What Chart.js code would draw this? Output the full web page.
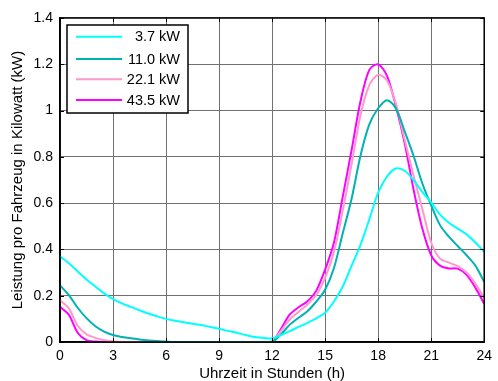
<!DOCTYPE html>
<html>
<head>
<meta charset="utf-8">
<script src="https://cdn.jsdelivr.net/npm/chart.js@4/dist/chart.umd.min.js"></script>
<style>
html,body{margin:0;padding:0;background:#fff;}
#wrap{width:498px;height:381px;}
</style>
</head>
<body>
<div id="wrap"><canvas id="c" width="498" height="381"></canvas></div>
<script>
// ---- data ----
const hours = [0,0.5,1,1.5,2,2.5,3,3.5,4,4.5,5,5.5,6,6.5,7,7.5,8,8.5,9,9.5,10,10.5,11,11.5,12,12.5,13,13.5,14,14.5,15,15.5,16,16.5,17,17.5,18,18.5,19,19.5,20,20.5,21,21.5,22,22.5,23,23.5,24];
const seriesLabels = ['3.7 kW','11.0 kW','22.1 kW','43.5 kW'];
const p37 = [0.37,0.34,0.305,0.27,0.24,0.21,0.185,0.167,0.152,0.137,0.123,0.111,0.1,0.092,0.085,0.079,0.073,0.065,0.057,0.048,0.04,0.03,0.022,0.018,0.015,0.03,0.047,0.065,0.083,0.102,0.126,0.175,0.24,0.33,0.42,0.53,0.645,0.715,0.75,0.74,0.7,0.648,0.603,0.55,0.515,0.49,0.465,0.43,0.39];
const p110 = [0.245,0.203,0.148,0.103,0.068,0.045,0.03,0.022,0.016,0.011,0.007,0.004,0.002,0,0,0,0,0,0,0,0,0,0,0,0,0.033,0.075,0.105,0.133,0.175,0.226,0.32,0.471,0.62,0.805,0.94,1.01,1.045,1.01,0.91,0.805,0.685,0.59,0.505,0.455,0.415,0.375,0.33,0.26];
const p221 = [0.18,0.145,0.07,0.033,0.018,0.008,0.003,0,0,0,0,0,0,0,0,0,0,0,0,0,0,0,0,0,0.003,0.048,0.097,0.13,0.162,0.203,0.277,0.39,0.57,0.77,0.98,1.11,1.155,1.13,1.03,0.875,0.72,0.575,0.43,0.36,0.343,0.328,0.3,0.252,0.19];
const p435 = [0.152,0.118,0.04,0.008,0.002,0,0,0,0,0,0,0,0,0,0,0,0,0,0,0,0,0,0,0,0,0.056,0.119,0.15,0.176,0.222,0.313,0.43,0.629,0.83,1.04,1.176,1.2,1.15,1.02,0.86,0.66,0.49,0.375,0.33,0.318,0.317,0.29,0.235,0.165];
const xTicks = [0,3,6,9,12,15,18,21,24];
const yTickLabels = ['0','0.2','0.4','0.6','0.8','1','1.2','1.4'];
const xTitle = 'Uhrzeit in Stunden (h)';
const yTitle = 'Leistung pro Fahrzeug in Kilowatt (kW)';

const colors = ['#00ffff','#00b2b2','#ff99cc','#ff00ff'];
const allSeries = [p37,p110,p221,p435];

const FONT = 'Liberation Sans, Arial, sans-serif';

const datasets = allSeries.map((s,i)=>({
  label: seriesLabels[i],
  data: hours.map((h,k)=>({x:h,y:s[k]})),
  borderColor: colors[i],
  backgroundColor: colors[i],
  borderWidth: 2,
  pointRadius: 0,
  tension: 0.3,
  fill: false
}));

const framePlugin = {
  id: 'frame',
  afterDraw(chart){
    const ctx = chart.ctx;
    const a = chart.chartArea;
    const xs = chart.scales.x, ys = chart.scales.y;
    ctx.save();
    ctx.strokeStyle = '#000';
    ctx.lineWidth = 1;
    const tl = 4;
    ctx.beginPath();
    xTicks.forEach(v=>{
      const px = Math.round(xs.getPixelForValue(v))+0.5;
      ctx.moveTo(px,a.bottom); ctx.lineTo(px,a.bottom-tl);
      ctx.moveTo(px,a.top); ctx.lineTo(px,a.top+tl);
    });
    yTickLabels.forEach((t,i)=>{
      const py = Math.round(ys.getPixelForValue(i*0.2))+0.5;
      ctx.moveTo(a.left,py); ctx.lineTo(a.left+tl,py);
      ctx.moveTo(a.right,py); ctx.lineTo(a.right-tl,py);
    });
    ctx.stroke();
    ctx.lineWidth = 1.5;
    ctx.strokeRect(a.left, a.top, a.right-a.left, a.bottom-a.top);
    // legend
    const lx = 67, ly = 25, lw = 121, lh = 88;
    ctx.fillStyle = '#fff';
    ctx.fillRect(lx,ly,lw,lh);
    ctx.lineWidth = 1.5;
    ctx.strokeStyle = '#000';
    ctx.strokeRect(lx,ly,lw,lh);
    const rows = [36.7,59,79.3,100];
    ctx.font = '14.5px ' + FONT;
    ctx.textAlign = 'right';
    ctx.textBaseline = 'middle';
    chart.data.datasets.forEach((d,i)=>{
      ctx.strokeStyle = d.borderColor;
      ctx.lineWidth = 2;
      ctx.beginPath();
      ctx.moveTo(76,rows[i]); ctx.lineTo(122,rows[i]);
      ctx.stroke();
      ctx.fillStyle = '#000';
      ctx.fillText(d.label, 180, rows[i]+0.5);
    });
    ctx.restore();
  }
};

new Chart(document.getElementById('c'), {
  type: 'line',
  data: { datasets },
  options: {
    responsive: false,
    animation: false,
    devicePixelRatio: 1,
    layout: { padding: { left: 0, top: 18, right: 8, bottom: 0 } },
    plugins: { legend: { display: false }, tooltip: { enabled: false } },
    scales: {
      x: {
        type: 'linear', min: 0, max: 24,
        afterBuildTicks: s => { s.ticks = xTicks.map(v=>({value:v})); },
        afterFit: s => { s.height = 39; },
        grid: { color: '#707070', lineWidth: 1, drawTicks: false },
        border: { display: true, color: '#000', width: 1.5 },
        ticks: { color: '#000', font: { family: FONT, size: 14 }, padding: 6, maxRotation: 0 },
        title: { display: true, text: xTitle, color: '#000', font: { family: FONT, size: 15 }, padding: { top: 0, bottom: -2 } }
      },
      y: {
        type: 'linear', min: 0, max: 1.4,
        afterBuildTicks: s => { s.ticks = yTickLabels.map((t,i)=>({value:i*0.2})); },
        afterFit: s => { s.width = 60; },
        grid: { color: '#707070', lineWidth: 1, drawTicks: false },
        border: { display: true, color: '#000', width: 1.5 },
        ticks: { color: '#000', font: { family: FONT, size: 14 }, padding: 7,
          callback: (v) => yTickLabels[Math.round(v/0.2)] },
        title: { display: true, text: yTitle, color: '#000', font: { family: FONT, size: 15 }, padding: { top: 9, bottom: 0 } }
      }
    }
  },
  plugins: [framePlugin]
});
</script>
</body>
</html>
